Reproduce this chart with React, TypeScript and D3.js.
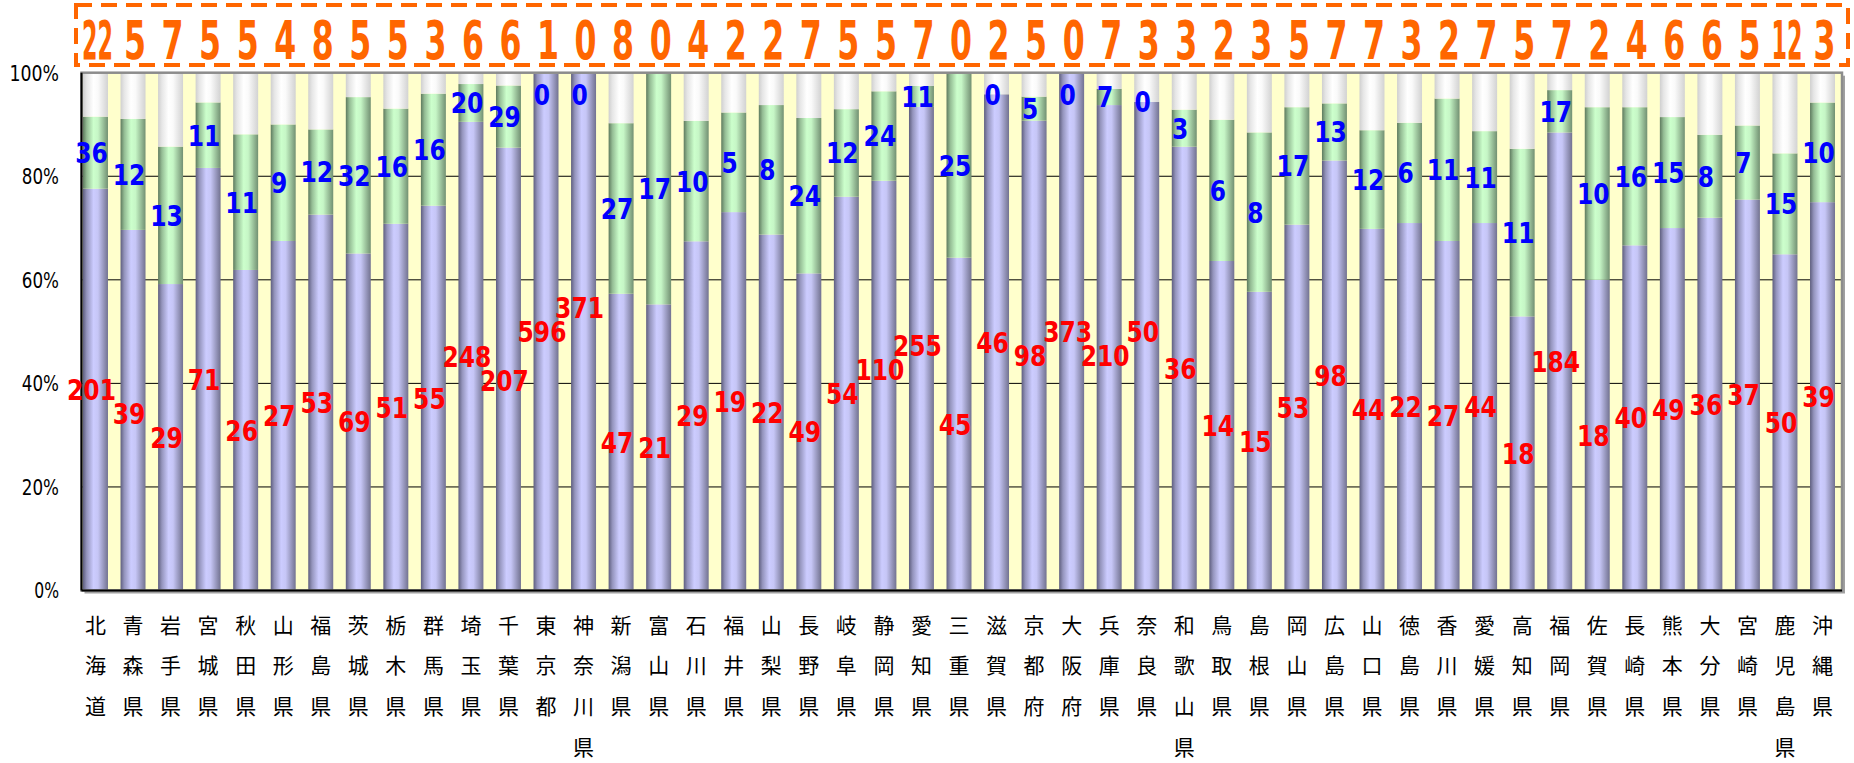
import React from 'react'
import * as d3 from 'd3'

// 都道府県別の内訳（件数）
const prefectures = [
	'北海道', '青森県', '岩手県', '宮城県', '秋田県', '山形県', '福島県', '茨城県', '栃木県', '群馬県',
	'埼玉県', '千葉県', '東京都', '神奈川県', '新潟県', '富山県', '石川県', '福井県', '山梨県', '長野県',
	'岐阜県', '静岡県', '愛知県', '三重県', '滋賀県', '京都府', '大阪府', '兵庫県', '奈良県', '和歌山県',
	'鳥取県', '島根県', '岡山県', '広島県', '山口県', '徳島県', '香川県', '愛媛県', '高知県', '福岡県',
	'佐賀県', '長崎県', '熊本県', '大分県', '宮崎県', '鹿児島県', '沖縄県',
]

// purple (bottom) segment, red labels
const seriesA = [
	201, 39, 29, 71, 26, 27, 53, 69, 51, 55, 248, 207, 596, 371, 47, 21, 29, 19, 22, 49, 54, 110, 255, 45,
	46, 98, 373, 210, 50, 36, 14, 15, 53, 98, 44, 22, 27, 44, 18, 184, 18, 40, 49, 36, 37, 50, 39,
]

// green (middle) segment, blue labels
const seriesB = [
	36, 12, 13, 11, 11, 9, 12, 32, 16, 16, 20, 29, 0, 0, 27, 17, 10, 5, 8, 24, 12, 24, 11, 25, 0, 5, 0, 7,
	0, 3, 6, 8, 17, 13, 12, 6, 11, 11, 11, 17, 10, 16, 15, 8, 7, 15, 10,
]

// white (top) segment, orange labels in the box
const seriesC = [
	22, 5, 7, 5, 5, 4, 8, 5, 5, 3, 6, 6, 1, 0, 8, 0, 4, 2, 2, 7, 5, 5, 7, 0, 2, 5, 0, 7, 3, 3, 2, 3, 5, 7,
	7, 3, 2, 7, 5, 7, 2, 4, 6, 6, 5, 12, 3,
]

const yTicks = [0, 20, 40, 60, 80, 100]

type Lbl = { key: string; x: number; y: number; w: number; text: string }

// push labels apart when they collide with the one on their left
function spread(labels: Lbl[], h: number, minY: number) {
	const out: Lbl[] = []
	labels.forEach((l, i) => {
		let y = Math.max(minY, l.y)
		const p = out[i - 1]
		if (p && Math.abs(l.x - p.x) < (l.w + p.w) / 2 - 2 && Math.abs(y - p.y) < h) {
			y = y >= p.y ? p.y + h : p.y - h
			if (y < minY) y = p.y + h
		}
		out.push({ ...l, y })
	})
	return out
}

export default function App() {
	const width = 1854
	const height = 763
	const plot = { left: 81.5, right: 1842, top: 72.7, bottom: 590.5 }

	const rows = prefectures.map((name, i) => {
		const total = seriesA[i] + seriesB[i] + seriesC[i]
		return {
			name,
			a: (seriesA[i] / total) * 100,
			b: (seriesB[i] / total) * 100,
			c: (seriesC[i] / total) * 100,
		}
	})

	const stacked = d3.stack<(typeof rows)[number]>().keys(['a', 'b', 'c'])(rows)

	const x = d3.scaleBand<string>().domain(prefectures).range([83, 1835]).paddingInner(0.335).paddingOuter(0)
	const y = d3.scaleLinear().domain([0, 100]).range([plot.bottom, plot.top])
	const bw = x.bandwidth()
	const cx = (name: string) => (x(name) ?? 0) + bw / 2

	const fills = ['url(#gPurple)', 'url(#gGreen)', 'url(#gWhite)']

	const digitW = 16.3
	const redLabels = spread(
		stacked[0].map((d, i) => ({
			key: 'r' + i,
			x: cx(prefectures[i]) - 4,
			y: y((d[0] + d[1]) / 2),
			w: String(seriesA[i]).length * digitW,
			text: String(seriesA[i]),
		})),
		24,
		plot.top + 22,
	)
	const blueLabels = spread(
		stacked[1].map((d, i) => ({
			key: 'b' + i,
			x: cx(prefectures[i]) - 4,
			y: y((d[0] + d[1]) / 2),
			w: String(seriesB[i]).length * digitW,
			text: String(seriesB[i]),
		})),
		24,
		plot.top + 22,
	)

	const numFont = "'DejaVu Sans', sans-serif"

	return (
		<svg
			width={width}
			height={height}
			style={{ position: 'absolute', left: 0, top: 0, background: '#fff' }}
		>
			<defs>
				<linearGradient id="gPurple" x1="0" x2="1" y1="0" y2="0">
					<stop offset="0" stopColor="#5e5e7e" />
					<stop offset="0.15" stopColor="#9494bc" />
					<stop offset="0.42" stopColor="#ccccff" />
					<stop offset="0.6" stopColor="#c6c6f6" />
					<stop offset="1" stopColor="#727290" />
				</linearGradient>
				<linearGradient id="gGreen" x1="0" x2="1" y1="0" y2="0">
					<stop offset="0" stopColor="#5e7a5e" />
					<stop offset="0.15" stopColor="#94bc94" />
					<stop offset="0.42" stopColor="#ccffcc" />
					<stop offset="0.6" stopColor="#c6f6c6" />
					<stop offset="1" stopColor="#729072" />
				</linearGradient>
				<linearGradient id="gWhite" x1="0" x2="1" y1="0" y2="0">
					<stop offset="0" stopColor="#cfcfcf" />
					<stop offset="0.15" stopColor="#e6e6e6" />
					<stop offset="0.42" stopColor="#ffffff" />
					<stop offset="0.6" stopColor="#fafafa" />
					<stop offset="1" stopColor="#d2d2d2" />
				</linearGradient>
			</defs>

			{/* orange box with the top-segment counts */}
			<rect
				x={76}
				y={5}
				width={1772}
				height={60}
				fill="none"
				stroke="#FF6600"
				strokeWidth={4}
				strokeDasharray="16 9"
			/>
			{prefectures.map((p, i) => {
				const t = String(seriesC[i])
				return (
					<text
						key={'o' + p}
						x={cx(p) + 2}
						y={59}
						textAnchor="middle"
						fontFamily={numFont}
						fontWeight="bold"
						fontSize={53}
						fill="#FF6600"
						textLength={t.length === 1 ? 22 : 31}
						lengthAdjust="spacingAndGlyphs"
					>
						{t}
					</text>
				)
			})}

			{/* plot area */}
			<rect x={plot.left + 3} y={plot.top + 3} width={plot.right - plot.left} height={plot.bottom - plot.top} fill="#a0a0a0" />
			<rect x={plot.left} y={plot.top} width={plot.right - plot.left} height={plot.bottom - plot.top} fill="#FFFFCC" />
			{yTicks
				.filter((t) => t > 0 && t < 100)
				.map((t) => (
					<line key={'g' + t} x1={plot.left} x2={plot.right} y1={y(t)} y2={y(t)} stroke="#000" strokeWidth={1} />
				))}

			{stacked.map((series, si) =>
				series.map((d, i) => (
					<rect
						key={si + '-' + i}
						x={x(prefectures[i])}
						y={y(d[1])}
						width={bw}
						height={Math.max(0, y(d[0]) - y(d[1]))}
						fill={fills[si]}
					/>
				)),
			)}

			<rect
				x={plot.left}
				y={plot.top}
				width={plot.right - plot.left}
				height={plot.bottom - plot.top}
				fill="none"
				stroke="#8c8c8c"
				strokeWidth={2.5}
			/>
			<line x1={plot.left} x2={plot.left} y1={plot.top} y2={plot.bottom} stroke="#000" strokeWidth={2} />
			<line x1={plot.left} x2={plot.right} y1={plot.bottom} y2={plot.bottom} stroke="#000" strokeWidth={2} />

			{yTicks.map((t) => {
				const s = `${t}%`
				return (
					<text
						key={'t' + t}
						x={59}
						y={y(t)}
						dy="0.36em"
						textAnchor="end"
						fontFamily={numFont}
						fontSize={22}
						fill="#000"
						textLength={s.length * 12.4}
						lengthAdjust="spacingAndGlyphs"
					>
						{s}
					</text>
				)
			})}

			{blueLabels.map((l) => (
				<text
					key={l.key}
					x={l.x}
					y={l.y}
					dy="0.36em"
					textAnchor="middle"
					fontFamily={numFont}
					fontWeight="bold"
					fontSize={29}
					fill="#0000FF"
					textLength={l.w}
					lengthAdjust="spacingAndGlyphs"
				>
					{l.text}
				</text>
			))}
			{redLabels.map((l) => (
				<text
					key={l.key}
					x={l.x}
					y={l.y}
					dy="0.36em"
					textAnchor="middle"
					fontFamily={numFont}
					fontWeight="bold"
					fontSize={29}
					fill="#FF0000"
					textLength={l.w}
					lengthAdjust="spacingAndGlyphs"
				>
					{l.text}
				</text>
			))}

			{/* vertical category names */}
			{prefectures.map((p) =>
				Array.from(p).map((ch, k) => (
					<text
						key={p + k}
						x={cx(p)}
						y={625 + k * 40.7}
						dy="0.36em"
						textAnchor="middle"
						fontFamily="'Noto Sans CJK JP', sans-serif"
						fontSize={21}
						fill="#000"
					>
						{ch}
					</text>
				)),
			)}
		</svg>
	)
}
